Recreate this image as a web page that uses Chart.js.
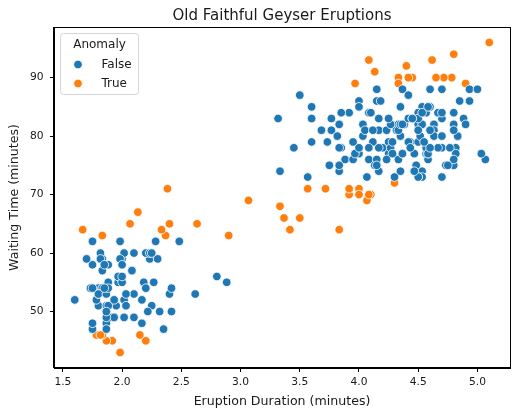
<!DOCTYPE html>
<html>
<head>
<meta charset="utf-8">
<script src="https://cdn.jsdelivr.net/npm/chart.js@4/dist/chart.umd.min.js"></script>
<style>
  html, body { margin: 0; padding: 0; background: #fff; }
  #wrap { width: 524px; height: 415px; }
</style>
</head>
<body>
<div id="wrap"><canvas id="geyser-chart" width="524" height="415"></canvas></div>
<script>
// Old Faithful eruptions, split by the Anomaly flag
const normalDuration = [
  3.600, 1.800, 3.333, 2.283, 4.533, 2.883, 4.700, 3.600, 1.950, 4.350, 1.833, 3.917, 4.200, 1.750, 4.700, 2.167,
  1.750, 4.800, 1.600, 4.250, 1.800, 1.750, 3.450, 4.533, 3.600, 1.967, 4.083, 3.850, 4.433, 4.300, 4.467, 4.033,
  3.833, 2.017, 1.867, 4.833, 1.833, 4.350, 1.883, 4.567, 1.750, 4.533, 3.317, 2.100, 4.633, 2.000, 4.800, 1.833,
  4.833, 1.733, 4.883, 4.567, 4.317, 2.233, 4.500, 1.750, 4.800, 1.817, 4.167, 4.700, 4.700, 4.033, 1.967, 4.500,
  1.983, 5.067, 2.017, 4.567, 3.883, 3.600, 4.133, 4.333, 4.067, 4.933, 3.950, 4.517, 2.167, 4.000, 2.200, 1.867,
  4.817, 4.667, 3.750, 1.867, 4.900, 2.483, 4.367, 2.100, 4.500, 4.050, 1.867, 4.700, 1.783, 4.850, 3.683, 4.733,
  2.300, 4.417, 1.700, 4.633, 2.317, 4.600, 1.817, 4.417, 2.617, 4.250, 1.967, 4.600, 3.767, 4.500, 2.267, 4.167,
  2.800, 4.383, 1.883, 4.933, 2.033, 3.733, 4.233, 2.233, 4.533, 4.817, 4.333, 1.983, 4.633, 2.017, 1.800, 5.033,
  4.000, 4.600, 4.500, 1.800, 4.150, 2.000, 3.833, 4.583, 5.000, 1.933, 1.917, 2.083, 4.583, 4.167, 4.333, 4.500,
  2.417, 4.000, 4.167, 1.883, 4.583, 4.250, 3.767, 2.033, 4.433, 4.083, 4.417, 2.183, 4.800, 1.833, 4.800, 4.100,
  3.966, 4.233, 3.500, 4.366, 2.250, 4.667, 2.100, 4.350, 1.867, 4.600, 4.367, 3.850, 1.933, 4.500, 4.700, 1.867,
  3.833, 4.233, 2.400, 2.000, 4.150, 1.867, 4.267, 1.750, 4.483, 4.000, 4.117, 4.083, 4.267, 4.550, 2.417, 4.183,
  2.217, 1.883, 1.850, 4.283, 3.950, 4.150, 2.350, 4.933, 4.583, 3.833, 2.083, 4.367, 4.350, 2.200, 4.450, 3.567,
  4.500, 4.150, 3.817, 4.450, 2.000, 4.283, 4.767, 4.533, 1.850, 4.250, 2.250, 4.750, 4.117, 4.467
]
const normalWaiting = [
  79, 54, 74, 62, 85, 55, 88, 85, 51, 85, 54, 84, 78, 47, 83, 52,
  62, 84, 52, 79, 51, 47, 78, 74, 83, 55, 76, 78, 79, 73, 77, 80,
  74, 52, 48, 80, 59, 80, 58, 84, 58, 73, 83, 53, 82, 59, 75, 54,
  80, 54, 83, 77, 81, 59, 84, 48, 82, 60, 78, 78, 73, 82, 56, 79,
  62, 76, 60, 78, 76, 83, 75, 82, 73, 88, 76, 80, 48, 86, 60, 50,
  78, 84, 75, 51, 82, 62, 88, 49, 83, 81, 47, 84, 52, 86, 81, 75,
  59, 79, 59, 81, 50, 85, 59, 87, 53, 77, 56, 88, 81, 82, 55, 83,
  56, 82, 51, 86, 53, 79, 81, 60, 82, 77, 76, 59, 80, 49, 53, 77,
  77, 81, 81, 53, 86, 58, 78, 76, 88, 52, 49, 57, 77, 81, 81, 73,
  50, 85, 74, 55, 77, 83, 83, 51, 78, 84, 83, 55, 81, 57, 76, 84,
  77, 81, 87, 77, 51, 78, 60, 82, 53, 78, 77, 84, 49, 83, 80, 49,
  75, 76, 53, 55, 76, 50, 82, 54, 75, 78, 79, 78, 78, 79, 54, 86,
  50, 54, 54, 77, 79, 75, 47, 86, 85, 82, 57, 82, 74, 54, 83, 73,
  73, 88, 80, 83, 56, 79, 78, 84, 58, 83, 60, 75, 81, 74
]
const anomalyDuration = [
  3.067, 3.367, 4.783, 3.833, 4.716, 3.717, 1.667, 4.400, 2.067, 4.000, 4.100, 2.633, 4.333, 1.833, 4.300, 4.900,
  4.067, 1.917, 4.650, 1.867, 4.333, 1.833, 5.100, 2.400, 3.567, 4.000, 4.083, 3.967, 2.200, 3.500, 2.367, 4.617,
  3.333, 1.833, 4.133, 1.783, 2.383, 3.417, 4.800, 3.917, 4.083, 4.450, 2.333, 2.900, 2.133, 3.917, 1.983, 2.150,
  4.417, 1.817
]
const anomalyWaiting = [
  69, 66, 90, 64, 90, 71, 64, 92, 65, 71, 70, 65, 90, 63, 72, 89,
  69, 45, 90, 45, 89, 46, 96, 65, 71, 70, 93, 89, 45, 66, 63, 93,
  68, 46, 91, 46, 71, 64, 94, 70, 70, 90, 64, 63, 67, 71, 43, 46,
  90, 46
]
const xTicks = [1.5, 2.0, 2.5, 3.0, 3.5, 4.0, 4.5, 5.0]
const yTicks = [50, 60, 70, 80, 90]
const chartTitle = 'Old Faithful Geyser Eruptions'

const points = (xs, ys) => xs.map((x, i) => ({ x: x, y: ys[i] }))
const FONT = 'DejaVu Sans'
const INK = '#1a1a1a'

// matplotlib style closed frame round the axes, title centred over the axes
const frame = {
  id: 'frame',
  afterDraw(chart) {
    const { ctx, chartArea: a } = chart
    ctx.save()
    ctx.strokeStyle = '#000'
    ctx.lineWidth = 1
    ctx.strokeRect(Math.round(a.left) - 0.5, Math.round(a.top) + 0.5,
                   Math.round(a.right - a.left) + 1, Math.round(a.bottom - a.top) - 1)
    ctx.fillStyle = INK
    ctx.font = '15px "' + FONT + '"'
    ctx.textAlign = 'center'
    ctx.textBaseline = 'alphabetic'
    ctx.fillText(chartTitle, (a.left + a.right) / 2, 20)
    ctx.restore()
  }
}

// seaborn legend box, upper left inside the axes
const legendBox = {
  id: 'legendBox',
  afterDraw(chart) {
    const { ctx, chartArea: a } = chart
    const x = a.left + 6.5, y = a.top + 6.5, w = 78, h = 61, r = 3
    ctx.save()
    ctx.beginPath()
    ctx.roundRect(x, y, w, h, r)
    ctx.fillStyle = 'rgba(255,255,255,0.8)'
    ctx.fill()
    ctx.strokeStyle = '#d6d6d6'
    ctx.lineWidth = 1
    ctx.stroke()
    ctx.fillStyle = INK
    ctx.font = '12px "' + FONT + '"'
    ctx.textBaseline = 'middle'
    ctx.textAlign = 'center'
    ctx.fillText('Anomaly', x + w / 2, y + 11.5)
    ctx.textAlign = 'left'
    chart.data.datasets.forEach((ds, i) => {
      const cy = y + 31 + i * 19
      ctx.beginPath()
      ctx.arc(x + 17.5, cy, 4.3, 0, Math.PI * 2)
      ctx.fillStyle = ds.backgroundColor
      ctx.fill()
      ctx.strokeStyle = '#fff'
      ctx.lineWidth = 0.8
      ctx.stroke()
      ctx.fillStyle = INK
      ctx.fillText(ds.label, x + 41, cy)
    })
    ctx.restore()
  }
}

new Chart(document.getElementById('geyser-chart').getContext('2d'), {
  type: 'scatter',
  data: {
    datasets: [{
      label: 'False',
      data: points(normalDuration, normalWaiting),
      backgroundColor: '#1f77b4',
      borderColor: '#ffffff',
      borderWidth: 0.8,
      pointRadius: 4.3
    }, {
      label: 'True',
      data: points(anomalyDuration, anomalyWaiting),
      backgroundColor: '#ff7f0e',
      borderColor: '#ffffff',
      borderWidth: 0.8,
      pointRadius: 4.3
    }]
  },
  options: {
    responsive: false,
    animation: false,
    devicePixelRatio: 1,
    events: [],
    layout: { padding: { left: 0, right: 14, top: 27, bottom: 0 } },
    plugins: {
      legend: { display: false },
      tooltip: { enabled: false },
      title: { display: false }
    },
    scales: {
      x: {
        type: 'linear',
        min: 1.425,
        max: 5.275,
        afterBuildTicks: s => { s.ticks = xTicks.map(v => ({ value: v })) },
        afterFit: s => { s.height = 47 },
        ticks: {
          color: INK,
          font: { family: FONT, size: 10.7 },
          padding: 4,
          maxRotation: 0,
          callback: v => v.toFixed(1)
        },
        grid: { drawOnChartArea: false, tickLength: 4, tickColor: '#000', tickWidth: 1 },
        border: { color: '#000', width: 1 },
        title: {
          display: true,
          text: 'Eruption Duration (minutes)',
          color: INK,
          font: { family: FONT, size: 12.6 },
          padding: { top: 0, bottom: 5.7 }
        }
      },
      y: {
        type: 'linear',
        min: 40.35,
        max: 98.65,
        afterBuildTicks: s => { s.ticks = yTicks.map(v => ({ value: v })) },
        afterFit: s => { s.width = 54 },
        ticks: {
          color: INK,
          font: { family: FONT, size: 10.7 },
          padding: 6.5
        },
        grid: { drawOnChartArea: false, tickLength: 4, tickColor: '#000', tickWidth: 1 },
        border: { color: '#000', width: 1 },
        title: {
          display: true,
          text: 'Waiting Time (minutes)',
          color: INK,
          font: { family: FONT, size: 12.6 },
          padding: { top: 7.4, bottom: 0 }
        }
      }
    }
  },
  plugins: [frame, legendBox]
})
</script>
</body>
</html>
